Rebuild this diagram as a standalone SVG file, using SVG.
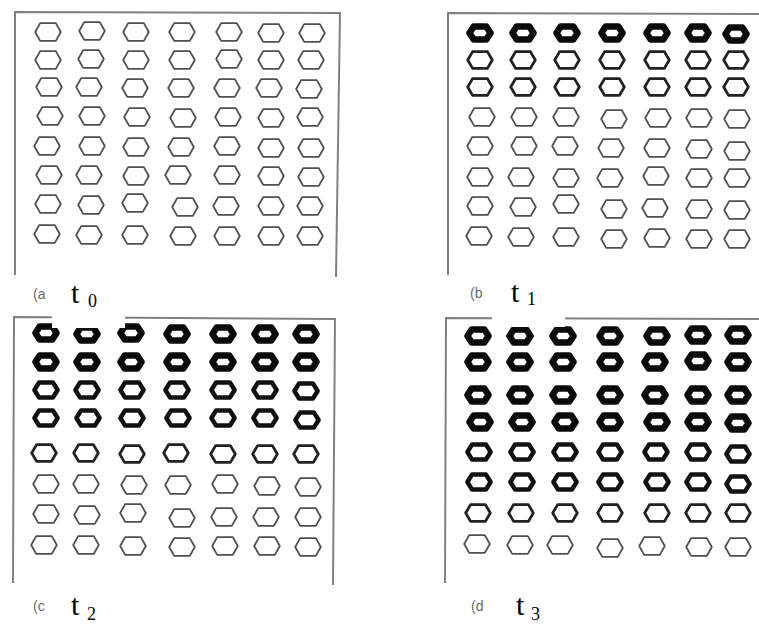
<svg xmlns="http://www.w3.org/2000/svg" xmlns:xlink="http://www.w3.org/1999/xlink" width="759" height="625" viewBox="0 0 759 625">
<style>
.frame{fill:none;stroke:#808080;stroke-width:2}
.h1{fill:none;stroke:#505050;stroke-width:1.8;stroke-linejoin:round}
.h2{fill:none;stroke:#222;stroke-width:2.8;stroke-linejoin:round}
.h3{fill:none;stroke:#111;stroke-width:4.5;stroke-linejoin:round}
.h4{fill:none;stroke:#0a0a0a;stroke-width:6.5;stroke-linejoin:round}
.tag{font-family:"Liberation Sans",sans-serif;font-size:14px;fill:#6a6a6a}
.t{font-family:"Liberation Serif",serif;font-size:30px;fill:#000}
.sub{font-family:"Liberation Serif",serif;font-size:18px;fill:#000}
</style>
<defs>
<path id="x1" d="M-12.8,0 L-7.8,-8.9 L7.8,-8.9 L12.8,0 L7.8,8.9 L-7.8,8.9 Z"/>
<path id="x2" d="M-12.3,0 L-7.4,-8.4 L7.4,-8.4 L12.3,0 L7.4,8.4 L-7.4,8.4 Z"/>
<path id="x3" d="M-11.6,0 L-6.9,-7.6 L6.9,-7.6 L11.6,0 L6.9,7.6 L-6.9,7.6 Z"/>
<path id="x4" d="M-10.6,0 L-6.2,-6.6 L6.2,-6.6 L10.6,0 L6.2,6.6 L-6.2,6.6 Z"/>
</defs>

<g id="panel-a">
<path class="frame" d="M15,275 L15,12 L340,13 L336,277"/>
<g class="h1">
<use href="#x1" x="48" y="32"/><use href="#x1" x="92" y="31"/><use href="#x1" x="136" y="32"/><use href="#x1" x="182" y="32"/><use href="#x1" x="229" y="32"/><use href="#x1" x="271" y="33"/><use href="#x1" x="312" y="33"/>
<use href="#x1" x="48" y="60"/><use href="#x1" x="91" y="59"/><use href="#x1" x="136" y="60"/><use href="#x1" x="182" y="60"/><use href="#x1" x="229" y="59"/><use href="#x1" x="271" y="60"/><use href="#x1" x="311" y="60"/>
<use href="#x1" x="49" y="87"/><use href="#x1" x="89" y="87"/><use href="#x1" x="135" y="88"/><use href="#x1" x="181" y="88"/><use href="#x1" x="227" y="88"/><use href="#x1" x="269" y="88"/><use href="#x1" x="309" y="89"/>
<use href="#x1" x="50" y="116"/><use href="#x1" x="92" y="116"/><use href="#x1" x="137" y="117"/><use href="#x1" x="183" y="118"/><use href="#x1" x="228" y="117"/><use href="#x1" x="271" y="118"/><use href="#x1" x="310" y="117"/>
<use href="#x1" x="47" y="146"/><use href="#x1" x="92" y="146"/><use href="#x1" x="136" y="147"/><use href="#x1" x="181" y="147"/><use href="#x1" x="227" y="146"/><use href="#x1" x="271" y="148"/><use href="#x1" x="311" y="148"/>
<use href="#x1" x="49" y="175"/><use href="#x1" x="89" y="175"/><use href="#x1" x="136" y="176"/><use href="#x1" x="178" y="175"/><use href="#x1" x="227" y="175"/><use href="#x1" x="271" y="176"/><use href="#x1" x="311" y="177"/>
<use href="#x1" x="48" y="204"/><use href="#x1" x="91" y="205"/><use href="#x1" x="135" y="203"/><use href="#x1" x="185" y="207"/><use href="#x1" x="226" y="206"/><use href="#x1" x="271" y="206"/><use href="#x1" x="310" y="206"/>
<use href="#x1" x="47" y="234"/><use href="#x1" x="89" y="235"/><use href="#x1" x="135" y="235"/><use href="#x1" x="183" y="236"/><use href="#x1" x="227" y="236"/><use href="#x1" x="271" y="236"/><use href="#x1" x="310" y="236"/>
</g>
</g>

<g id="panel-b">
<path class="frame" d="M448,275 L448,13 L759,14"/>
<g class="h4"><use href="#x4" x="480" y="33"/><use href="#x4" x="523" y="33"/><use href="#x4" x="567" y="33"/><use href="#x4" x="612" y="33"/><use href="#x4" x="657" y="33"/><use href="#x4" x="698" y="33"/><use href="#x4" x="736" y="34"/></g>
<g class="h2">
<use href="#x2" x="480" y="60"/><use href="#x2" x="523" y="60"/><use href="#x2" x="567" y="60"/><use href="#x2" x="612" y="60"/><use href="#x2" x="657" y="60"/><use href="#x2" x="698" y="60"/><use href="#x2" x="736" y="60"/>
<use href="#x2" x="480" y="87"/><use href="#x2" x="523" y="87"/><use href="#x2" x="567" y="87"/><use href="#x2" x="612" y="87"/><use href="#x2" x="657" y="87"/><use href="#x2" x="698" y="87"/><use href="#x2" x="736" y="87"/>
</g>
<g class="h1">
<use href="#x1" x="482" y="117"/><use href="#x1" x="524" y="117"/><use href="#x1" x="566" y="117"/><use href="#x1" x="614" y="119"/><use href="#x1" x="658" y="118"/><use href="#x1" x="699" y="118"/><use href="#x1" x="737" y="119"/>
<use href="#x1" x="480" y="146"/><use href="#x1" x="524" y="146"/><use href="#x1" x="565" y="146"/><use href="#x1" x="611" y="148"/><use href="#x1" x="657" y="148"/><use href="#x1" x="699" y="149"/><use href="#x1" x="737" y="151"/>
<use href="#x1" x="480" y="177"/><use href="#x1" x="521" y="177"/><use href="#x1" x="566" y="178"/><use href="#x1" x="610" y="178"/><use href="#x1" x="656" y="176"/><use href="#x1" x="699" y="178"/><use href="#x1" x="737" y="178"/>
<use href="#x1" x="480" y="206"/><use href="#x1" x="523" y="207"/><use href="#x1" x="566" y="204"/><use href="#x1" x="614" y="209"/><use href="#x1" x="655" y="208"/><use href="#x1" x="699" y="209"/><use href="#x1" x="737" y="210"/>
<use href="#x1" x="479" y="236"/><use href="#x1" x="521" y="237"/><use href="#x1" x="566" y="237"/><use href="#x1" x="614" y="239"/><use href="#x1" x="657" y="238"/><use href="#x1" x="699" y="239"/><use href="#x1" x="737" y="239"/>
</g>
</g>

<g id="panel-c">
<path class="frame" d="M13,583 L14,317 L335,319 L333,585"/>
<g class="h4">
<use href="#x4" x="46" y="333"/><use href="#x4" x="87" y="334"/><use href="#x4" x="131" y="333"/><use href="#x4" x="177" y="334"/><use href="#x4" x="223" y="334"/><use href="#x4" x="265" y="334"/><use href="#x4" x="306" y="334"/>
<use href="#x4" x="46" y="362"/><use href="#x4" x="87" y="362"/><use href="#x4" x="131" y="362"/><use href="#x4" x="177" y="362"/><use href="#x4" x="223" y="362"/><use href="#x4" x="265" y="362"/><use href="#x4" x="306" y="362"/>
</g>
<g class="h3">
<use href="#x3" x="46" y="390"/><use href="#x3" x="87" y="390"/><use href="#x3" x="132" y="390"/><use href="#x3" x="177" y="390"/><use href="#x3" x="223" y="390"/><use href="#x3" x="265" y="390"/><use href="#x3" x="306" y="391"/>
<use href="#x3" x="46" y="418"/><use href="#x3" x="88" y="418"/><use href="#x3" x="132" y="418"/><use href="#x3" x="178" y="418"/><use href="#x3" x="223" y="418"/><use href="#x3" x="265" y="418"/><use href="#x3" x="307" y="420"/>
</g>
<g class="h2">
<use href="#x2" x="44" y="453"/><use href="#x2" x="86" y="453"/><use href="#x2" x="132" y="454"/><use href="#x2" x="176" y="453"/><use href="#x2" x="223" y="454"/><use href="#x2" x="265" y="454"/><use href="#x2" x="306" y="454"/>
</g>
<g class="h1">
<use href="#x1" x="46" y="484"/><use href="#x1" x="86" y="484"/><use href="#x1" x="134" y="485"/><use href="#x1" x="178" y="485"/><use href="#x1" x="225" y="484"/><use href="#x1" x="267" y="486"/><use href="#x1" x="308" y="487"/>
<use href="#x1" x="46" y="514"/><use href="#x1" x="87" y="515"/><use href="#x1" x="133" y="513"/><use href="#x1" x="182" y="518"/><use href="#x1" x="224" y="517"/><use href="#x1" x="266" y="517"/><use href="#x1" x="308" y="517"/>
<use href="#x1" x="44" y="545"/><use href="#x1" x="86" y="545"/><use href="#x1" x="133" y="546"/><use href="#x1" x="182" y="547"/><use href="#x1" x="225" y="546"/><use href="#x1" x="267" y="546"/><use href="#x1" x="308" y="547"/>
</g>
</g>

<g id="panel-d">
<path class="frame" d="M445,583 L446,318 L759,319"/>
<g class="h4">
<use href="#x4" x="478" y="336"/><use href="#x4" x="520" y="336"/><use href="#x4" x="563" y="336"/><use href="#x4" x="610" y="336"/><use href="#x4" x="657" y="336"/><use href="#x4" x="698" y="335"/><use href="#x4" x="738" y="335"/>
<use href="#x4" x="478" y="362"/><use href="#x4" x="520" y="362"/><use href="#x4" x="563" y="362"/><use href="#x4" x="610" y="362"/><use href="#x4" x="655" y="362"/><use href="#x4" x="698" y="361"/><use href="#x4" x="738" y="362"/>
<use href="#x4" x="478" y="395"/><use href="#x4" x="520" y="395"/><use href="#x4" x="563" y="395"/><use href="#x4" x="610" y="395"/><use href="#x4" x="655" y="395"/><use href="#x4" x="698" y="395"/><use href="#x4" x="738" y="395"/>
<use href="#x4" x="480" y="422"/><use href="#x4" x="522" y="422"/><use href="#x4" x="565" y="422"/><use href="#x4" x="610" y="422"/><use href="#x4" x="657" y="422"/><use href="#x4" x="698" y="422"/><use href="#x4" x="738" y="423"/>
</g>
<g class="h3">
<use href="#x3" x="479" y="452"/><use href="#x3" x="522" y="452"/><use href="#x3" x="565" y="452"/><use href="#x3" x="610" y="452"/><use href="#x3" x="656" y="452"/><use href="#x3" x="698" y="452"/><use href="#x3" x="738" y="454"/>
<use href="#x3" x="479" y="482"/><use href="#x3" x="522" y="482"/><use href="#x3" x="565" y="482"/><use href="#x3" x="610" y="482"/><use href="#x3" x="657" y="482"/><use href="#x3" x="698" y="482"/><use href="#x3" x="738" y="484"/>
</g>
<g class="h2">
<use href="#x2" x="478" y="513"/><use href="#x2" x="521" y="513"/><use href="#x2" x="565" y="513"/><use href="#x2" x="610" y="513"/><use href="#x2" x="657" y="513"/><use href="#x2" x="698" y="513"/><use href="#x2" x="738" y="513"/>
</g>
<g class="h1">
<use href="#x1" x="477" y="544"/><use href="#x1" x="520" y="545"/><use href="#x1" x="560" y="545"/><use href="#x1" x="610" y="548"/><use href="#x1" x="652" y="546"/><use href="#x1" x="699" y="547"/><use href="#x1" x="738" y="547"/>
</g>
</g>

<g id="masks" fill="#fff">
<rect x="52" y="282" width="73" height="46"/>
<rect x="492" y="282" width="73" height="45"/>
</g>

<g id="labels">
<text class="tag" x="33" y="299">(a</text>
<text class="t" x="71" y="303">t</text><text class="sub" x="88" y="307">0</text>
<text class="tag" x="470" y="298">(b</text>
<text class="t" x="511" y="302">t</text><text class="sub" x="527" y="305">1</text>
<text class="tag" x="33" y="611">(c</text>
<text class="t" x="71" y="615">t</text><text class="sub" x="87" y="620">2</text>
<text class="tag" x="471" y="611">(d</text>
<text class="t" x="516" y="615">t</text><text class="sub" x="531" y="620">3</text>
</g>
</svg>
